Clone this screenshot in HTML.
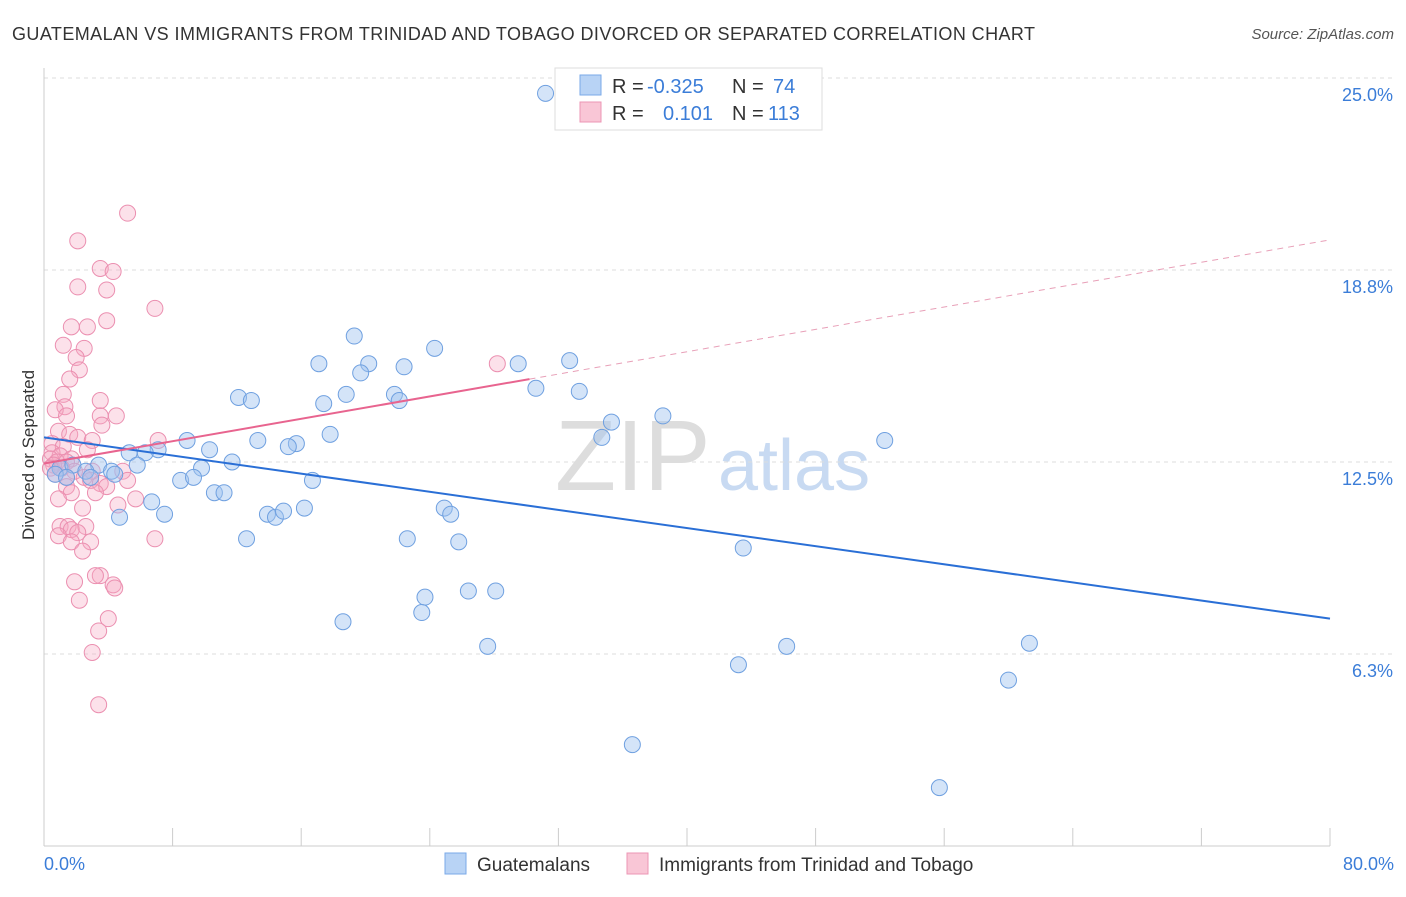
<!DOCTYPE html>
<html><head><meta charset="utf-8"><style>
body{margin:0;background:#fff;font-family:"Liberation Sans",sans-serif;}
svg text{font-family:"Liberation Sans",sans-serif;}
</style></head><body>
<svg id="chart" width="1406" height="892" xmlns="http://www.w3.org/2000/svg">
<text x="12" y="40" font-size="18" fill="#333" textLength="1023">GUATEMALAN VS IMMIGRANTS FROM TRINIDAD AND TOBAGO DIVORCED OR SEPARATED CORRELATION CHART</text>
<text x="1394" y="39" font-size="15" fill="#555" text-anchor="end" font-style="italic">Source: ZipAtlas.com</text>
<text x="555" y="490" font-size="100" fill="#ddd" font-family="Liberation Serif">ZIP</text>
<text x="718" y="490" font-size="72" fill="#c8daf2">atlas</text>
<g id="grid"></g>
<g id="axes"></g>
<g id="pts"></g>
<g id="trend"></g>
<text x="34" y="455" font-size="17" fill="#333" text-anchor="middle" transform="rotate(-90 34 455)">Divorced or Separated</text>
<text x="44" y="870" font-size="18" fill="#3b7dd8">0.0%</text>
<text x="1394" y="870" font-size="18" fill="#3b7dd8" text-anchor="end">80.0%</text>
<g>
<rect x="555" y="68" width="267" height="62" fill="#fff" stroke="#ddd"/>
<rect x="580" y="75" width="21" height="20" fill="#b8d3f5" stroke="#7aaae8"/>
<rect x="580" y="102" width="21" height="20" fill="#f9c6d6" stroke="#ec96b4"/>
<text x="612" y="93" font-size="20" fill="#333">R =</text><text x="647" y="93" font-size="20" fill="#3b7dd8">-0.325</text>
<text x="732" y="93" font-size="20" fill="#333">N =</text><text x="773" y="93" font-size="20" fill="#3b7dd8">74</text>
<text x="612" y="120" font-size="20" fill="#333">R =</text><text x="663" y="120" font-size="20" fill="#3b7dd8">0.101</text>
<text x="732" y="120" font-size="20" fill="#333">N =</text><text x="768" y="120" font-size="20" fill="#3b7dd8">113</text>
</g>
<g>
<rect x="445" y="853" width="21" height="21" fill="#b8d3f5" stroke="#7aaae8"/>
<text x="477" y="871" font-size="19" fill="#333">Guatemalans</text>
<rect x="627" y="853" width="21" height="21" fill="#f9c6d6" stroke="#ec96b4"/>
<text x="659" y="871" font-size="19" fill="#333">Immigrants from Trinidad and Tobago</text>
</g>
</svg>
<script>
const yTicks=[6.25,12.5,18.75,25];
const yTickLabels=["6.3%","12.5%","18.8%","25.0%"];
const blueX=[31.2,17.1,19.3,20.2,19.7,22.4,24.3,29.5,32.7,30.6,33.3,21.8,22.1,18.8,17.4,12.1,12.9,35.3,34.7,38.5,52.3,17.8,8.9,13.3,15.7,15.2,10.3,7.1,5.3,6.3,11.7,5.8,3.4,4.2,4.4,9.8,8.5,9.3,16.7,10.6,11.2,6.7,7.5,4.7,13.9,14.4,14.9,16.2,24.9,25.3,12.6,22.6,25.8,43.5,23.7,26.4,28.1,23.5,18.6,27.6,46.2,61.3,43.2,60.0,36.6,55.7,1.0,1.8,2.6,2.9,0.7,1.4];
const blueY=[24.5,15.7,16.6,15.7,15.4,15.6,16.2,15.7,15.8,14.9,14.8,14.7,14.5,14.7,14.4,14.6,14.5,13.8,13.3,14.0,13.2,13.4,13.2,13.2,13.1,13.0,12.9,12.9,12.8,12.8,12.5,12.4,12.4,12.2,12.1,12.3,11.9,12.0,11.9,11.5,11.5,11.2,10.8,10.7,10.8,10.7,10.9,11.0,11.0,10.8,10.0,10.0,9.9,9.7,8.1,8.3,8.3,7.6,7.3,6.5,6.5,6.6,5.9,5.4,3.3,1.9,12.3,12.4,12.2,12.0,12.1,12.0];
const pinkX=[5.2,2.1,3.5,4.3,2.1,3.9,6.9,3.9,1.7,2.7,1.2,2.5,2.0,2.2,28.2,1.6,1.2,3.5,1.3,0.7,1.4,3.5,4.5,3.6,0.9,1.6,2.1,7.1,3.0,0.5,1.2,2.7,0.5,1.0,1.7,0.4,0.8,1.4,0.6,1.1,0.4,1.9,3.0,4.9,0.7,2.5,1.4,5.2,2.9,3.5,3.9,1.4,1.7,3.2,5.7,0.9,4.6,2.4,1.0,1.5,1.7,2.6,2.1,0.9,1.7,2.9,6.9,2.4,3.5,3.2,4.3,4.4,1.9,2.2,4.0,3.4,3.0,3.4];
const pinkY=[20.6,19.7,18.8,18.7,18.2,18.1,17.5,17.1,16.9,16.9,16.3,16.2,15.9,15.5,15.7,15.2,14.7,14.5,14.3,14.2,14.0,14.0,14.0,13.7,13.5,13.4,13.3,13.2,13.2,13.1,13.0,12.9,12.8,12.7,12.6,12.6,12.5,12.5,12.4,12.3,12.3,12.2,12.2,12.2,12.1,12.0,12.0,11.9,11.9,11.8,11.7,11.7,11.5,11.5,11.3,11.3,11.1,11.0,10.4,10.4,10.3,10.4,10.2,10.1,9.9,9.9,10.0,9.6,8.8,8.8,8.5,8.4,8.6,8.0,7.4,7.0,6.3,4.6];
const blueTrend=[13.3,7.4];
const pinkTrend=[12.45,0.091];
const pinkSolidEnd=30.2;
const NS="http://www.w3.org/2000/svg";
const sx=v=>44+v*16.075, sy=v=>846-v*30.72;
function mk(t,a,p){const e=document.createElementNS(NS,t);for(const k in a)e.setAttribute(k,a[k]);p.appendChild(e);return e;}
const grid=document.getElementById('grid');
yTicks.forEach((t,i)=>{
 const l=mk('line',{x1:44,x2:1395,y1:sy(t),y2:sy(t),stroke:'#ddd','stroke-dasharray':'4,4'},grid);
 
 
 const tx=mk('text',{x:1393,y:sy(t)+23,'font-size':18,fill:'#3b7dd8','text-anchor':'end'},grid);
 tx.textContent=yTickLabels[i];
 
 
});
const axes=document.getElementById('axes');
const ya=mk('line',{x1:44,x2:44,y1:68,y2:846,stroke:'#ccc'},axes);


const xa=mk('line',{x1:44,x2:1330,y1:846,y2:846,stroke:'#ccc'},axes);


for(let k=0;k<=80;k+=8){
 const t=mk('line',{x1:sx(k),x2:sx(k),y1:828,y2:846,stroke:'#ccc'},axes);
 
 
}
const pts=document.getElementById('pts');
pinkX.forEach((x,i)=>{
 const c=mk('circle',{cx:sx(x),cy:sy(pinkY[i]),r:8,fill:'rgba(245,170,195,0.35)',stroke:'#eb8fb0','stroke-width':1},pts);
 
 
});
blueX.forEach((x,i)=>{
 const c=mk('circle',{cx:sx(x),cy:sy(blueY[i]),r:8,fill:'rgba(160,195,240,0.45)',stroke:'#6fa0e0','stroke-width':1},pts);
 
 
});
const tr=document.getElementById('trend');
const bl=mk('line',{x1:sx(0),y1:sy(blueTrend[0]),x2:sx(80),y2:sy(blueTrend[1]),stroke:'#2a6fd6','stroke-width':2},tr);


const pf=v=>pinkTrend[0]+pinkTrend[1]*v;
const ps=mk('line',{x1:sx(0),y1:sy(pf(0)),x2:sx(pinkSolidEnd),y2:sy(pf(pinkSolidEnd)),stroke:'#e8648f','stroke-width':2},tr);


const pd=mk('line',{x1:sx(pinkSolidEnd),y1:sy(pf(pinkSolidEnd)),x2:sx(80),y2:sy(pf(80)),stroke:'#e8a0b8','stroke-width':1,'stroke-dasharray':'6,5'},tr);


</script>
</body></html>
